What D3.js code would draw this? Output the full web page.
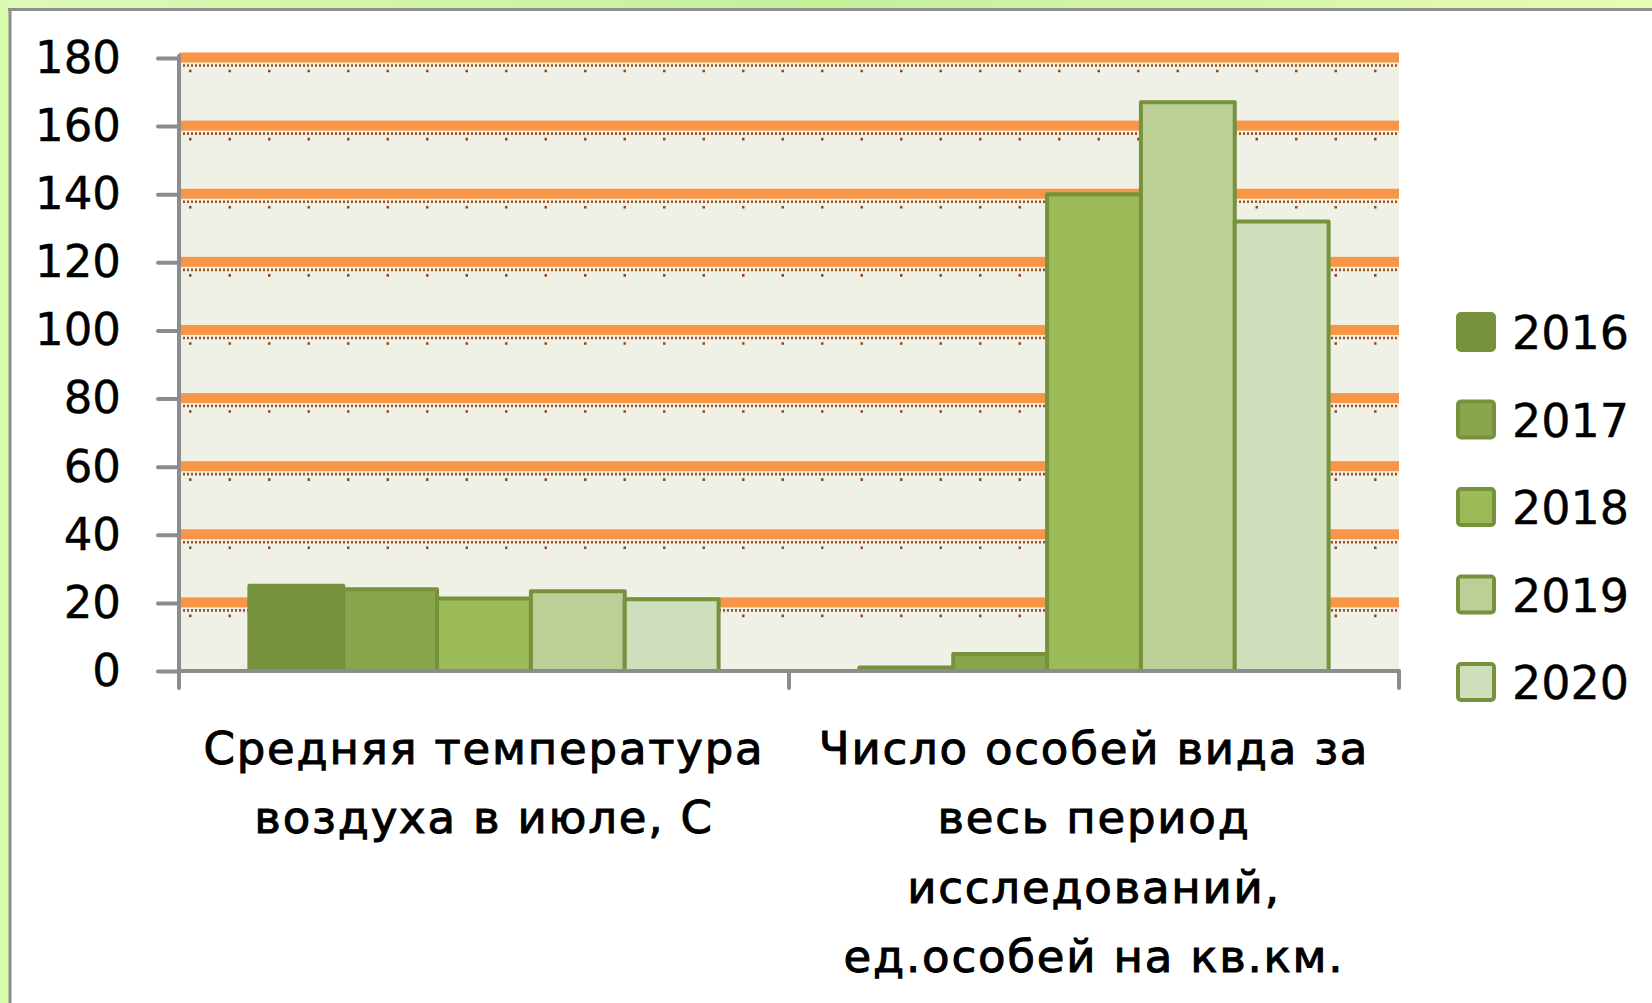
<!DOCTYPE html>
<html>
<head>
<meta charset="utf-8">
<script src="https://cdn.jsdelivr.net/npm/d3@7/dist/d3.min.js"></script>
<style>
  html, body { margin: 0; padding: 0; background: #ffffff; }
  svg { display: block; }
  text { font-family: "DejaVu Sans", "Open Sans", sans-serif; fill: #000; }
</style>
</head>
<body>
<svg id="chart" width="1652" height="1003"></svg>
<script>
// Category labels, line by line as they are wrapped under the axis
const categoryLines = [
  ["Средняя температура", "воздуха в июле, С"],
  ["Число особей вида за", "весь период", "исследований,", "ед.особей на кв.км."]
];
const categories = categoryLines.map(l => l.join(" "));

// Series (years)
const years = ["2016", "2017", "2018", "2019", "2020"];

// Values per category, in year order
const tempJuly = [25, 24, 21.3, 23.4, 21.1];
const speciesCount = [1, 5, 140, 167, 132];

// Value axis ticks
const yTicks = [0, 20, 40, 60, 80, 100, 120, 140, 160, 180];

// Fill colours for the years (olive green shades)
const palette = ["#76923c", "#8aa64c", "#9bbb59", "#bccf96", "#d0dfbb"];
const barStroke = "#76923c";

const data = categories.map((c, i) => ({
  category: c,
  values: years.map((y, j) => ({ year: y, value: [tempJuly, speciesCount][i][j] }))
}));

const W = 1652, H = 1003;
const plot = { left: 179, right: 1399, top: 58, bottom: 671 };

const svg = d3.select("#chart");

// ---- slide frame: green edge with grey border ----
const defs = svg.append("defs");
const g1 = defs.append("linearGradient").attr("id", "topEdge").attr("x1", "0").attr("x2", "1");
g1.append("stop").attr("offset", "0%").attr("stop-color", "#def9b6");
g1.append("stop").attr("offset", "50%").attr("stop-color", "#c4f09a");
g1.append("stop").attr("offset", "100%").attr("stop-color", "#e8fcb4");

svg.append("rect").attr("x", 0).attr("y", 0).attr("width", W).attr("height", H).attr("fill", "#ffffff");
svg.append("rect").attr("x", 0).attr("y", 0).attr("width", W).attr("height", 9).attr("fill", "url(#topEdge)");
svg.append("rect").attr("x", 0).attr("y", 0).attr("width", 9).attr("height", H).attr("fill", "#d8fbb0");
svg.append("line").attr("x1", 8).attr("x2", W).attr("y1", 9.5).attr("y2", 9.5)
  .attr("stroke", "#8e8e8e").attr("stroke-width", 3);
svg.append("line").attr("x1", 10).attr("x2", 10).attr("y1", 8).attr("y2", H)
  .attr("stroke", "#8e8e8e").attr("stroke-width", 3);

// ---- scales ----
const y = d3.scaleLinear().domain([0, 180]).range([plot.bottom, plot.top]);
const x0 = d3.scaleBand().domain(categories).range([plot.left, plot.right]).paddingInner(0).paddingOuter(0);
const x1 = d3.scaleBand().domain(years).range([0, x0.bandwidth()]).paddingInner(0).paddingOuter(0.75);
const color = d3.scaleOrdinal().domain(years).range(palette);

// ---- plot area background ----
svg.append("rect")
  .attr("x", plot.left).attr("y", plot.top - 5)
  .attr("width", plot.right - plot.left).attr("height", plot.bottom - plot.top + 5)
  .attr("fill", "#eff1e7");

// ---- gridlines: thick orange band with dotted trim below ----
const grid = svg.append("g");
const gridTicks = yTicks.filter(v => v > 0);
grid.selectAll("rect.band").data(gridTicks).join("rect")
  .attr("class", "band")
  .attr("x", plot.left).attr("width", plot.right - plot.left)
  .attr("y", d => y(d) - 5.5).attr("height", 10)
  .attr("fill", "#f79646");
grid.selectAll("line.dots").data(gridTicks).join("line")
  .attr("class", "dots")
  .attr("x1", plot.left).attr("x2", plot.right)
  .attr("y1", d => y(d) + 7.5).attr("y2", d => y(d) + 7.5)
  .attr("stroke", "#9c5220").attr("stroke-width", 2.6)
  .attr("stroke-dasharray", "2 2");
grid.selectAll("line.sparse").data(gridTicks).join("line")
  .attr("class", "sparse")
  .attr("x1", plot.left + 10).attr("x2", plot.right)
  .attr("y1", d => y(d) + 13).attr("y2", d => y(d) + 13)
  .attr("stroke", "#8a4c22").attr("stroke-width", 2.6)
  .attr("stroke-dasharray", "2.5 37");

// ---- bars ----
const groups = svg.append("g").selectAll("g").data(data).join("g")
  .attr("transform", d => `translate(${x0(d.category)},0)`);
groups.selectAll("rect").data(d => d.values).join("rect")
  .attr("x", d => x1(d.year))
  .attr("y", d => y(d.value))
  .attr("width", x1.bandwidth())
  .attr("height", d => y(0) - y(d.value))
  .attr("fill", d => color(d.year))
  .attr("stroke", barStroke)
  .attr("stroke-width", 4)
  .attr("stroke-linejoin", "round");

// ---- axes ----
const axisColor = "#8c8c8c";
const yAxis = svg.append("g").attr("transform", `translate(${plot.left},0)`)
  .call(d3.axisLeft(y).tickValues(yTicks).tickSize(21).tickPadding(37).tickSizeOuter(0));
yAxis.select(".domain").remove();
yAxis.selectAll(".tick line").attr("stroke", axisColor).attr("stroke-width", 4).attr("stroke-linecap", "round");
yAxis.selectAll(".tick text")
  .attr("font-size", 45).attr("fill", "#000")
  .attr("stroke", "#000").attr("stroke-width", 0.4)
  .attr("font-family", "DejaVu Sans, sans-serif");
svg.append("line")
  .attr("x1", plot.left).attr("x2", plot.left)
  .attr("y1", plot.top - 2).attr("y2", plot.bottom + 17)
  .attr("stroke", axisColor).attr("stroke-width", 4).attr("stroke-linecap", "round");

// category axis line with boundary ticks
const xEdges = [plot.left, ...categories.map(c => x0(c) + x0.bandwidth())];
svg.append("line")
  .attr("x1", plot.left).attr("x2", plot.right)
  .attr("y1", plot.bottom).attr("y2", plot.bottom)
  .attr("stroke", axisColor).attr("stroke-width", 4).attr("stroke-linecap", "round");
svg.append("g").selectAll("line").data(xEdges.slice(1)).join("line")
  .attr("x1", d => d).attr("x2", d => d)
  .attr("y1", plot.bottom).attr("y2", plot.bottom + 17)
  .attr("stroke", axisColor).attr("stroke-width", 4).attr("stroke-linecap", "round");

// category labels
const lineStep = 69.5;
svg.append("g").selectAll("text").data(data).join("text")
  .attr("text-anchor", "middle")
  .attr("font-size", 45)
  .attr("letter-spacing", 1.8)
  .attr("stroke", "#000").attr("stroke-width", 1)
  .each(function (d, i) {
    const t = d3.select(this);
    const cx = x0(d.category) + x0.bandwidth() / 2;
    categoryLines[i].forEach((line, k) => {
      t.append("tspan").attr("x", cx).attr("y", 748 + k * lineStep)
        .attr("dominant-baseline", "central").text(line);
    });
  });

// ---- legend ----
const legend = svg.append("g").attr("transform", "translate(1456,331)");
const items = legend.selectAll("g").data(years).join("g")
  .attr("transform", (d, i) => `translate(0,${i * 87.5})`);
items.append("rect")
  .attr("x", 2).attr("y", -17).attr("width", 36).attr("height", 36).attr("rx", 3)
  .attr("fill", d => color(d)).attr("stroke", barStroke).attr("stroke-width", 4);
items.append("text")
  .attr("x", 56).attr("y", 2)
  .attr("dominant-baseline", "central")
  .attr("font-size", 46)
  .attr("stroke", "#000").attr("stroke-width", 0.4)
  .text(d => d);
</script>
</body>
</html>
